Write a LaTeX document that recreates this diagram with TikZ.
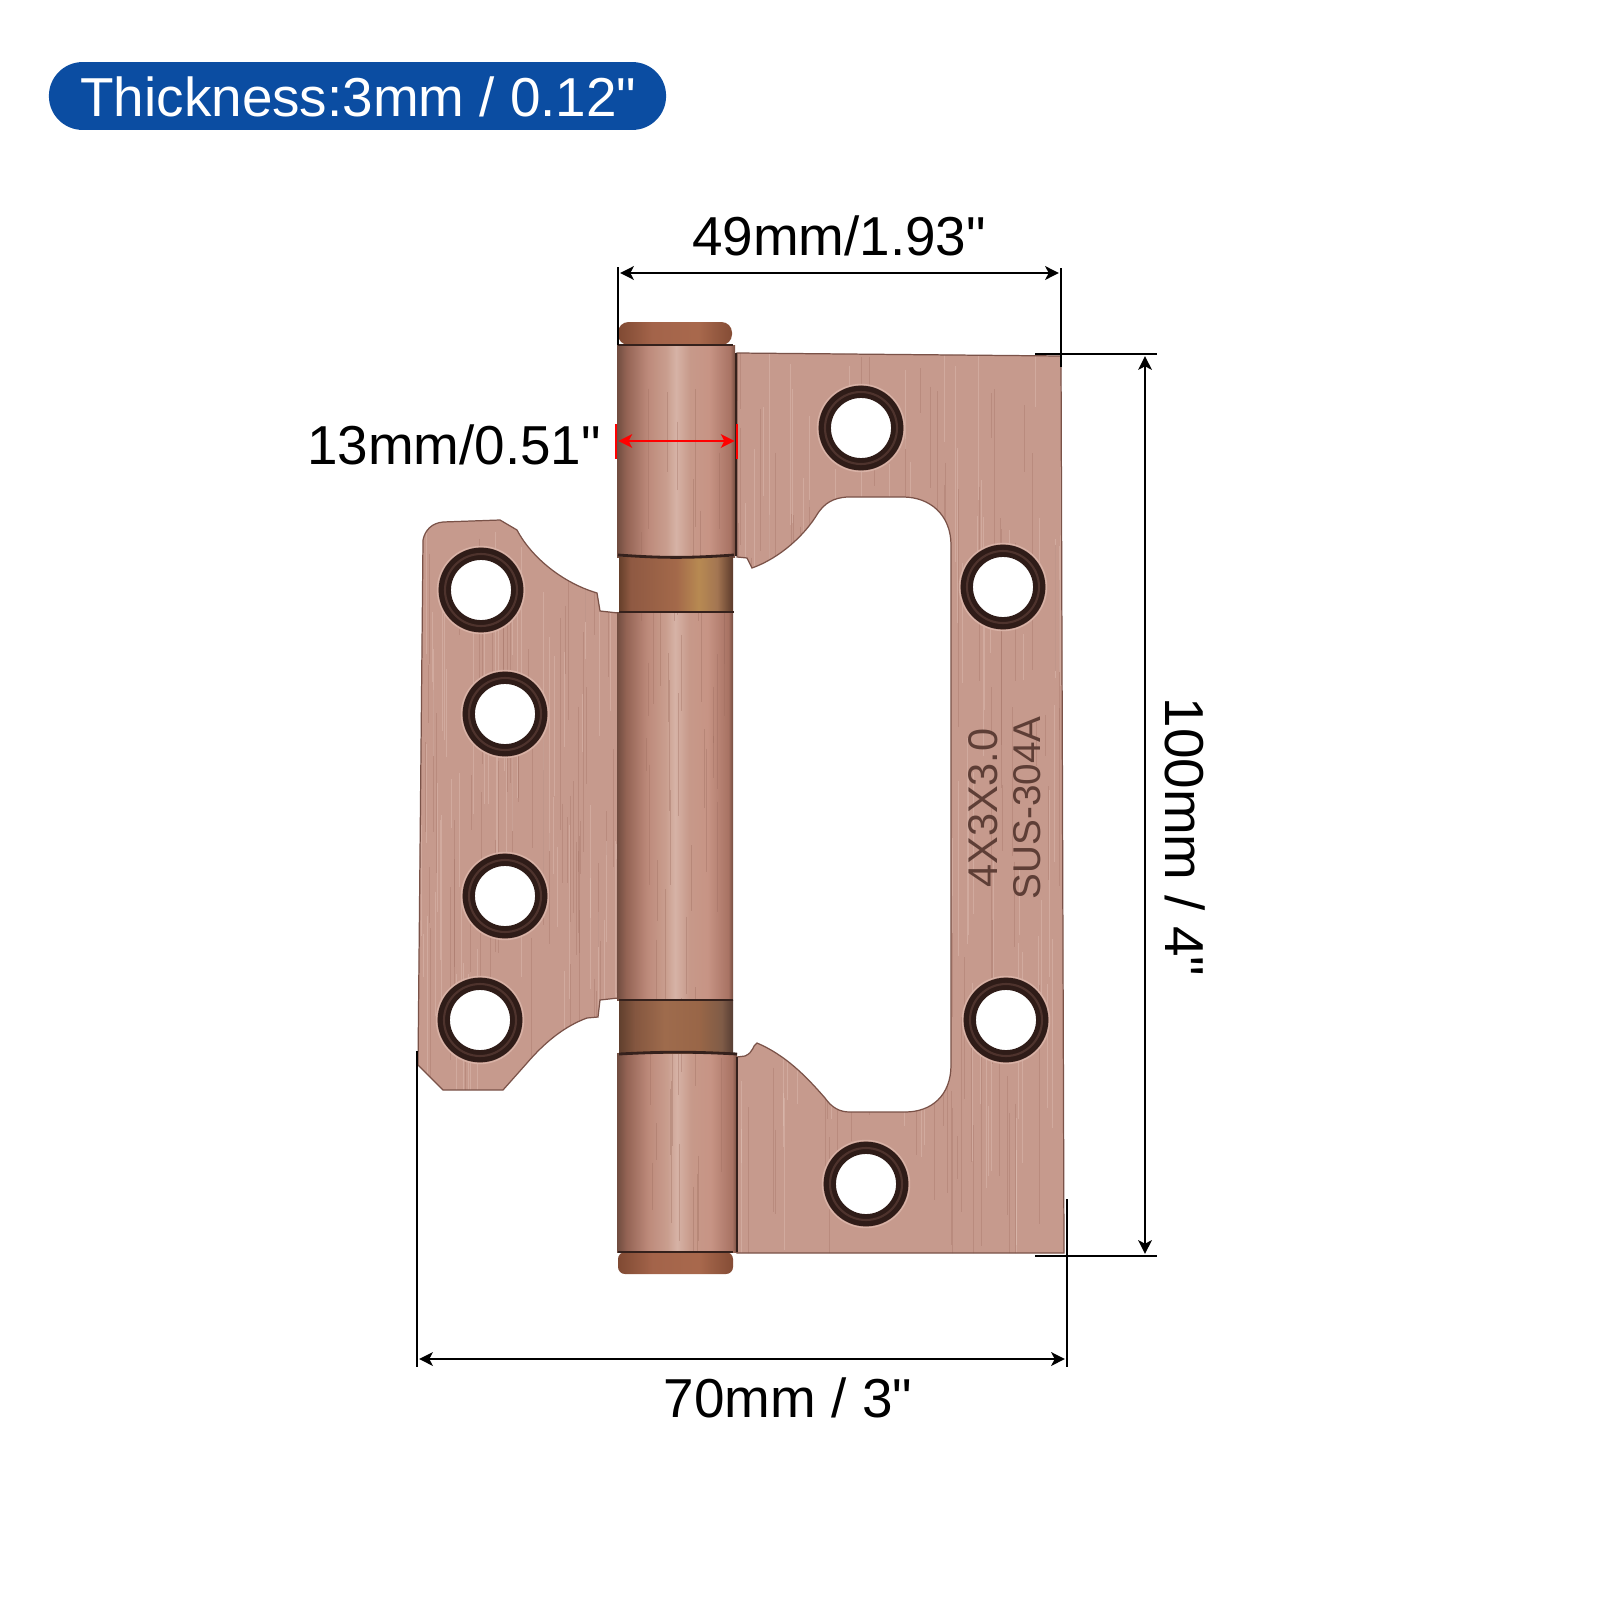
\documentclass[tikz,border=0pt]{standalone}
\usepackage{fontspec}
\setmainfont{Liberation Sans}[Ligatures=TeXOff]
\usepackage{color}
\usetikzlibrary{arrows.meta}
\definecolor{leafcol}{HTML}{C69A8D}
\definecolor{leafedge}{HTML}{7A5248}
\definecolor{streakdark}{HTML}{9C6B5D}
\definecolor{streaklight}{HTML}{E2C3B9}
\definecolor{holecol}{HTML}{2F1C18}
\definecolor{holemid}{HTML}{4E332D}
\definecolor{halocol}{HTML}{D8B2A6}
\definecolor{badgecol}{HTML}{0B4DA2}
\definecolor{stampcol}{HTML}{5E3E36}
\definecolor{slitcol}{HTML}{35211C}
\pgfdeclarehorizontalshading{barrelshade}{100bp}{
	rgb(0bp)=(.44,.30,.25); rgb(25bp)=(.44,.30,.25); rgb(29bp)=(.58,.39,.33); rgb(38bp)=(.74,.54,.48);
	rgb(46bp)=(.79,.62,.56); rgb(50bp)=(.84,.70,.65); rgb(56bp)=(.78,.60,.54);
	rgb(64bp)=(.78,.58,.52); rgb(73bp)=(.66,.45,.39); rgb(75bp)=(.46,.30,.25);
	rgb(100bp)=(.46,.30,.25)}
\pgfdeclarehorizontalshading{bandshade}{100bp}{
	rgb(0bp)=(.40,.25,.17); rgb(25bp)=(.40,.25,.17); rgb(30bp)=(.56,.35,.26);
	rgb(50bp)=(.64,.41,.29); rgb(60bp)=(.72,.54,.32); rgb(68bp)=(.64,.46,.32);
	rgb(75bp)=(.36,.23,.17); rgb(100bp)=(.36,.23,.17)}
\pgfdeclarehorizontalshading{bandshadeb}{100bp}{
	rgb(0bp)=(.38,.25,.18); rgb(25bp)=(.38,.25,.18); rgb(32bp)=(.52,.34,.25);
	rgb(45bp)=(.62,.42,.30); rgb(60bp)=(.60,.40,.28); rgb(70bp)=(.50,.36,.28);
	rgb(75bp)=(.34,.24,.20); rgb(100bp)=(.34,.24,.20)}
\pgfdeclarehorizontalshading{capshade}{100bp}{
	rgb(0bp)=(.50,.29,.20); rgb(25bp)=(.50,.29,.20); rgb(40bp)=(.64,.39,.29);
	rgb(60bp)=(.66,.41,.30); rgb(75bp)=(.52,.30,.21); rgb(100bp)=(.52,.30,.21)}
\newcommand{\rightleaf}{(737,353) -- (1061,356) -- (1064,1253) -- (737,1253) -- (737,1057)
	-- (745,1056) .. controls (754,1052) and (752,1046) .. (757,1043)
	.. controls (785,1055) and (805,1075) .. (825,1098) .. controls (832,1108) and (840,1112) .. (850,1112)
	-- (905,1112) .. controls (932,1112) and (951,1095) .. (951,1065)
	-- (951,545) .. controls (951,515) and (930,497) .. (903,497)
	-- (847,497) .. controls (833,498) and (825,503) .. (818,513)
	.. controls (805,535) and (780,558) .. (752,568) -- (747,558) -- (737,557) -- cycle}
\newcommand{\leftleaf}{(423,540) .. controls (425,530) and (432,523) .. (443,522) -- (500,520)
	-- (517,530) .. controls (530,555) and (560,582) .. (597,593) -- (600,611) -- (618,613)
	-- (618,998) -- (600,1000) -- (598,1017) -- (587,1018) .. controls (565,1026) and (545,1042) .. (527,1063)
	-- (503,1090) -- (443,1090) -- (418,1065) -- cycle}
\begin{document}
\begin{tikzpicture}[x=0.01cm,y=-0.01cm,>={Stealth[length=3.9pt,width=3.9pt,inset=1pt]},
		hole/.style={circle,fill=white,draw=holecol,line width=3.5pt,minimum size=20.6pt,inner sep=0pt},
		dim/.style={<->,black,line width=0.57pt,shorten <=0.6pt,shorten >=0.6pt},
		ext/.style={black,line width=0.57pt},
		reddim/.style={red,line width=0.57pt},
		size label/.style={font=\fontsize{15.6}{18}\selectfont,inner sep=0pt},
		stamp/.style={text=stampcol,rotate=90,inner sep=0pt},
		streak/.style={line width=0.25pt}]
		
		\useasboundingbox (0,0) rectangle (1600,1600);
		\fill[white] (0,0) rectangle (1600,1600);
		
		% badge
		\node[fill=badgecol,rounded corners=9.6pt,minimum width=175.5pt,minimum height=19.3pt,inner sep=0pt] (badge) at (357.5,96) {};
		\node[size label,text=white] (badgetext) at (358.5,97) {Thickness:3mm / 0.12"};
		
		% leaves
		\fill[leafcol] \rightleaf;
		\fill[leafcol] \leftleaf;
		\pgfmathsetseed{11}
		\begin{scope}
			\clip \rightleaf;
			\foreach \i in {1,...,110}{
				\pgfmathsetmacro{\sx}{737+rnd*327}
				\pgfmathsetmacro{\sy}{350+rnd*800}
				\draw[streak,draw=streakdark,opacity=0.3] (\sx,\sy) -- ++(0,40+rnd*200);
				\pgfmathsetmacro{\sx}{737+rnd*327}
				\pgfmathsetmacro{\sy}{350+rnd*800}
				\draw[streak,draw=streaklight,opacity=0.4] (\sx,\sy) -- ++(0,40+rnd*200);
			}
		\end{scope}
		\begin{scope}
			\clip \leftleaf;
			\foreach \i in {1,...,60}{
				\pgfmathsetmacro{\sx}{418+rnd*200}
				\pgfmathsetmacro{\sy}{520+rnd*480}
				\draw[streak,draw=streakdark,opacity=0.3] (\sx,\sy) -- ++(0,40+rnd*180);
				\pgfmathsetmacro{\sx}{418+rnd*200}
				\pgfmathsetmacro{\sy}{520+rnd*480}
				\draw[streak,draw=streaklight,opacity=0.4] (\sx,\sy) -- ++(0,40+rnd*180);
			}
		\end{scope}
		\draw[leafedge,line width=0.35pt] \rightleaf;
		\draw[leafedge,line width=0.35pt] \leftleaf;
		
		% barrel
		\shade[shading=capshade,rounded corners=3pt] (618,345) -- (618,322) -- (732,322) -- (732,345) -- cycle;
		\shade[shading=barrelshade] (617,345) rectangle (735,557);
		\shade[shading=barrelshade] (617,612) rectangle (733,1000);
		\shade[shading=barrelshade] (617,1053) rectangle (737,1252);
		\begin{scope}
			\clip (617,345) rectangle (737,1252);
			\foreach \i in {1,...,50}{
				\pgfmathsetmacro{\sx}{640+rnd*85}
				\pgfmathsetmacro{\sy}{345+rnd*850}
				\draw[streak,draw=streakdark,opacity=0.35] (\sx,\sy) -- ++(0,30+rnd*120);
			}
		\end{scope}
		\shade[shading=bandshade] (619,557) rectangle (733,612);
		\shade[shading=bandshadeb] (619,1000) rectangle (733,1053);
		\shade[shading=capshade,rounded corners=2pt] (618,1252) -- (618,1274) -- (733,1274) -- (733,1252) -- cycle;
		\foreach \ya/\xa/\xb in {345/618/733,612/619/734,1000/619/733,1252/618/733}
			\draw[slitcol,line width=0.8pt] (\xa,\ya) -- (\xb,\ya);
		\draw[slitcol,line width=0.8pt] (618,555) to[bend right=4] (734,555);
		\draw[slitcol,line width=0.8pt] (619,1054) to[bend left=3] (737,1054);
		\draw[slitcol,line width=0.6pt] (736,353) -- (736,556);
		\draw[slitcol,line width=0.6pt] (737,1057) -- (737,1252);
		
		% screw holes
		\foreach \hx/\hy/\hn in {861/428/ha,1003/587/hb,1006/1020/hc,866/1184/hd,481/590/he,505/714/hf,505/896/hg,480/1020/hh}{
			\draw[halocol,line width=0.4pt] (\hx,\hy) circle (43.5);
			\node[hole] (\hn) at (\hx,\hy) {};
			\draw[holemid,line width=0.6pt] (\hx,\hy) circle (36);
		}
		
		% stamped text
		\node[stamp,font=\fontsize{11.8}{14}\selectfont] (stampa) at (983,808) {4X3X3.0};
		\node[stamp,font=\fontsize{11}{13}\selectfont] (stampb) at (1027,808) {SUS-304A};
		
		% dimension ends
		\coordinate (wa) at (618,273);
		\coordinate (wb) at (1061,273);
		\coordinate (wc) at (618,345);
		\coordinate (wd) at (1061,367);
		\coordinate (we) at (618,267);
		\coordinate (wf) at (1061,268);
		\coordinate (ha1) at (1035,354);
		\coordinate (ha2) at (1157,354);
		\coordinate (hb1) at (1035,1256);
		\coordinate (hb2) at (1157,1256);
		\coordinate (hu) at (1145,354);
		\coordinate (hl) at (1145,1256);
		\coordinate (la) at (417,1051);
		\coordinate (lb) at (417,1367);
		\coordinate (lc) at (1067,1199);
		\coordinate (ld) at (1067,1367);
		\coordinate (ll) at (417,1359);
		\coordinate (lr) at (1067,1359);
		\coordinate (ra) at (617,441);
		\coordinate (rb) at (736,441);
		\coordinate (rc) at (616,424);
		\coordinate (rd) at (616,459);
		\coordinate (re) at (737,424);
		\coordinate (rf) at (737,459);
		
		\draw[ext] (we) -- (wc);
		\draw[ext] (wf) -- (wd);
		\draw[ext] (ha1) -- (ha2);
		\draw[ext] (hb1) -- (hb2);
		\draw[ext] (la) -- (lb);
		\draw[ext] (lc) -- (ld);
		\draw[dim] (wa) -- (wb);
		\draw[dim] (hu) -- (hl);
		\draw[dim] (ll) -- (lr);
		\draw[reddim] (rc) -- (rd);
		\draw[reddim] (re) -- (rf);
		\draw[reddim,<->,shorten <=0.4pt,shorten >=0.4pt] (ra) -- (rb);
		
		% labels
		\node[size label] (wlabel) at (839,236) {49mm/1.93"};
		\node[size label] (tlabel) at (454,445) {13mm/0.51"};
		\node[size label] (olabel) at (788,1398) {70mm / 3"};
		\node[size label,rotate=-90] (hlabel) at (1185,837) {100mm / 4"};
		\end{tikzpicture}
\end{document}
